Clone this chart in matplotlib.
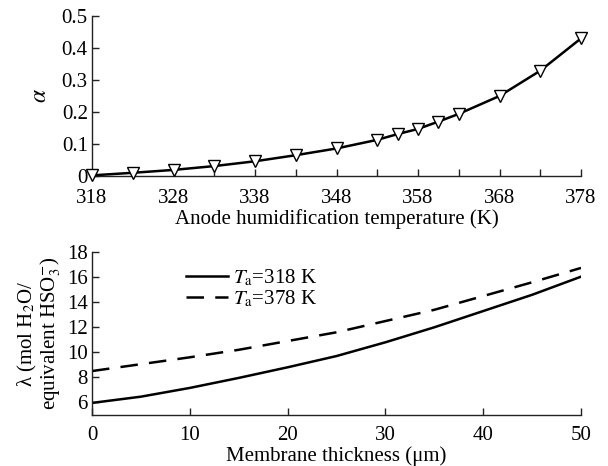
import matplotlib
matplotlib.use("Agg")
import matplotlib.pyplot as plt

plt.rcParams['font.family'] = ['Liberation Serif', 'DejaVu Serif']
plt.rcParams['mathtext.fontset'] = 'stix'

# Top panel data
temp_K = [318, 323, 328, 333, 338, 343, 348, 353, 355.5, 358, 360.5, 363, 368, 373, 378]
alpha = [0.002, 0.010, 0.019, 0.031, 0.046, 0.065, 0.086, 0.113, 0.131, 0.147, 0.170, 0.194, 0.250, 0.329, 0.430]
temp_ticks = [318, 328, 338, 348, 358, 368, 378]
temp_minor = [323, 333, 343, 353, 363, 373]
alpha_ticks = [0, 0.1, 0.2, 0.3, 0.4, 0.5]
alpha_labels = ['0', '0.1', '0.2', '0.3', '0.4', '0.5']

# Bottom panel data
thickness_um = [0, 5, 10, 15, 20, 25, 30, 35, 40, 45, 50]
lam_318 = [5.95, 6.45, 7.15, 7.95, 8.8, 9.7, 10.8, 12.0, 13.3, 14.6, 16.05]
lam_378 = [8.5, 9.05, 9.6, 10.2, 10.9, 11.6, 12.5, 13.4, 14.5, 15.6, 16.75]
thick_ticks = [0, 10, 20, 30, 40, 50]
lam_ticks = [6, 8, 10, 12, 14, 16, 18]

FS = 15
W, H = 608, 466
fig = plt.figure(figsize=(W / 100, H / 100), dpi=100)

def style(ax, xpad):
    for s in ['top', 'right']:
        ax.spines[s].set_visible(False)
    for s in ['left', 'bottom']:
        ax.spines[s].set_linewidth(1.0)
        ax.spines[s].set_color('#222222')
    ax.tick_params(which='both', direction='in', length=5, width=1.0,
                   color='#222222', labelsize=FS)
    ax.tick_params(axis='y', pad=3)
    ax.tick_params(axis='x', pad=xpad)

# Top axes
ax1 = fig.add_axes([92 / W, 1 - 176 / H, (581 - 92) / W, 160 / H])
ax1.plot(temp_K, alpha, color='black', lw=1.8, marker='v', markersize=9,
         markerfacecolor='white', markeredgecolor='black', markeredgewidth=1.0,
         clip_on=False, zorder=3)
ax1.set_xlim(318, 378)
ax1.set_ylim(0, 0.5)
ax1.set_xticks(temp_ticks)
ax1.set_xticks(temp_minor, minor=True)
ax1.set_yticks(alpha_ticks)
ax1.set_yticklabels(alpha_labels)
style(ax1, 9.5)
ax1.set_xlabel('Anode humidification temperature (K)', fontsize=FS, labelpad=1)
ax1.set_ylabel(r'$\alpha$', fontsize=17, labelpad=8)

# Bottom axes
ax2 = fig.add_axes([92 / W, 1 - 414.8 / H, (581 - 92) / W, 162.5 / H])
ax2.plot(thickness_um, lam_318, color='black', lw=1.8, label=r'$T_{\mathrm{a}}$=318 K')
ax2.plot(thickness_um, lam_378, color='black', lw=1.8, dashes=(7, 4.5),
         label=r'$T_{\mathrm{a}}$=378 K')
ax2.set_xlim(0, 50)
ax2.set_ylim(5, 18)
ax2.set_xticks(thick_ticks)
ax2.set_yticks(lam_ticks)
style(ax2, 8)
ax2.set_xlabel('Membrane thickness (\u03bcm)', fontsize=FS, labelpad=1)
ax2.set_ylabel('\u03bb (mol H$_2$O/\nequivalent HSO$_3^{-}$)', fontsize=FS,
               labelpad=3, linespacing=0.95)
leg = ax2.legend(loc='upper left', bbox_to_anchor=(0.175, 0.96), frameon=False,
                 fontsize=FS, handlelength=2.0, handletextpad=0.25,
                 labelspacing=0.05, borderaxespad=0)

fig.savefig('out.png', dpi=100)
